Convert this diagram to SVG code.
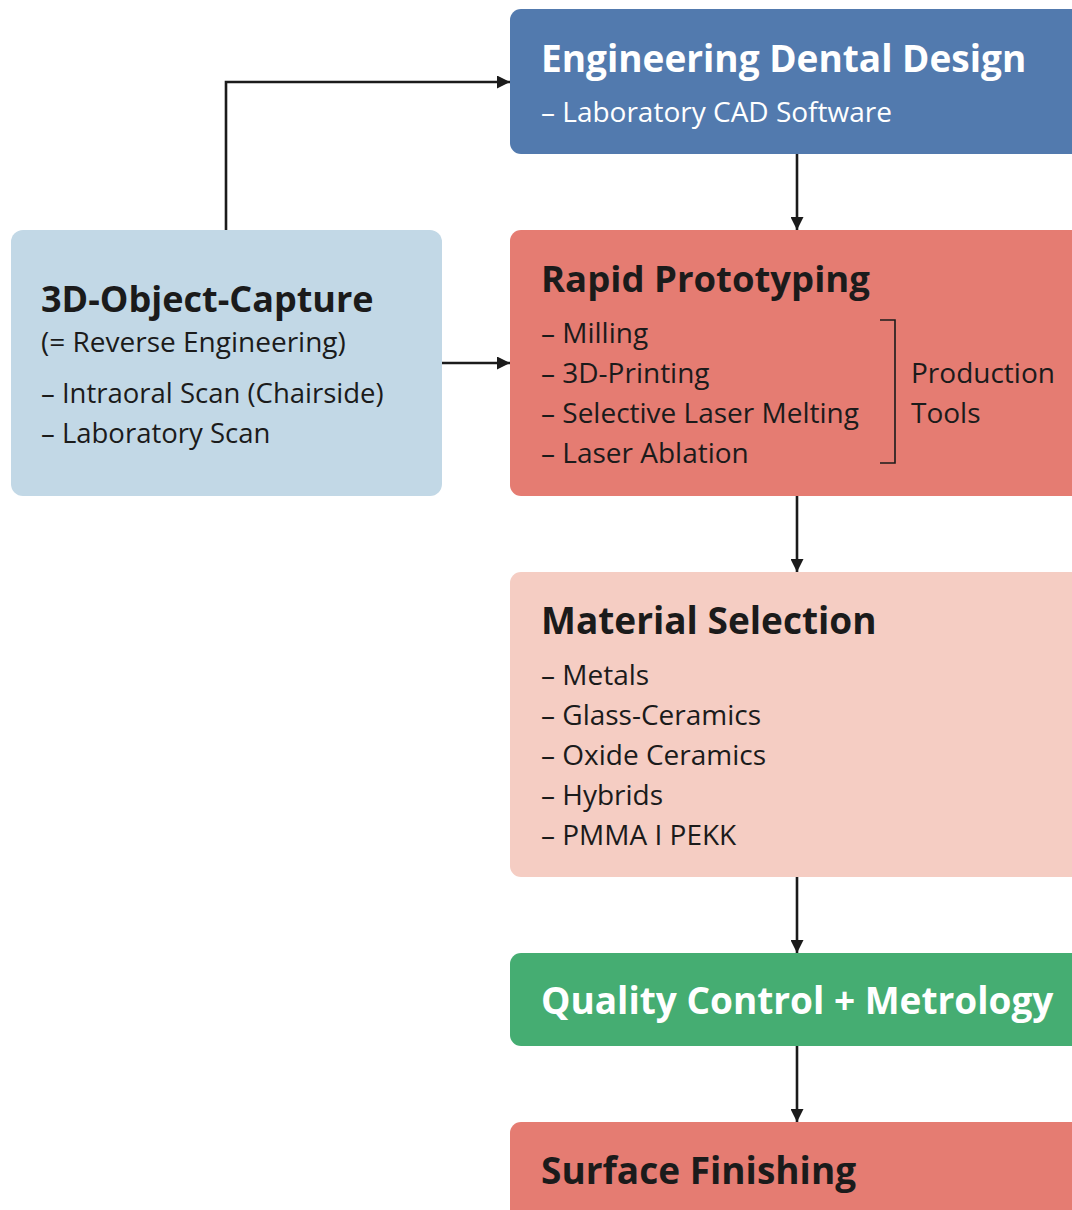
<svg xmlns="http://www.w3.org/2000/svg" width="1072" height="1210" viewBox="0 0 1072 1210">
  <style>
    .title { font-family: "Open Sans", "Noto Sans", "Liberation Sans", sans-serif; font-weight: 700; font-size: 37px; }
    .item { font-family: "Open Sans", "Noto Sans", "Liberation Sans", sans-serif; font-weight: 400; font-size: 28px; }
    .dark { fill: #1b1b1b; }
    .light { fill: #ffffff; }
    .conn { fill: none; stroke: #1b1b1b; stroke-width: 2.6; }
  </style>
  <defs>
    <marker id="arrow" viewBox="0 0 10 10" refX="10" refY="5" markerWidth="13" markerHeight="13" orient="auto" markerUnits="userSpaceOnUse">
      <path d="M0,0 L10,5 L0,10 Z" fill="#1b1b1b"/>
    </marker>
  </defs>

  <rect width="1072" height="1210" fill="#ffffff"/>

  <!-- Connectors -->
  <g id="connectors">
    <path class="conn" d="M226,230 V82 H510" marker-end="url(#arrow)"/>
    <path class="conn" d="M442,363 H510" marker-end="url(#arrow)"/>
    <path class="conn" d="M797,154 V230" marker-end="url(#arrow)"/>
    <path class="conn" d="M797,496 V572" marker-end="url(#arrow)"/>
    <path class="conn" d="M797,877 V953" marker-end="url(#arrow)"/>
    <path class="conn" d="M797,1046 V1122" marker-end="url(#arrow)"/>
  </g>

  <!-- Engineering Dental Design -->
  <g id="design">
    <rect x="510" y="9" width="580" height="145" rx="11" fill="#527aae"/>
    <text class="title light" x="541" y="72">Engineering Dental Design</text>
    <text class="item light" x="541" y="122">– Laboratory CAD Software</text>
  </g>

  <!-- 3D-Object-Capture -->
  <g id="capture">
    <rect x="11" y="230" width="431" height="266" rx="12" fill="#c2d8e6"/>
    <text class="title dark" x="41" y="312" style="font-size:36px">3D-Object-Capture</text>
    <text class="item dark" x="41" y="352">(= Reverse Engineering)</text>
    <text class="item dark" x="41" y="403" style="font-size:27.5px">– Intraoral Scan (Chairside)</text>
    <text class="item dark" x="41" y="443" style="font-size:27.5px">– Laboratory Scan</text>
  </g>

  <!-- Rapid Prototyping -->
  <g id="prototyping">
    <rect x="510" y="230" width="580" height="266" rx="11" fill="#e57c72"/>
    <text class="title dark" x="541" y="292" style="font-size:36.5px">Rapid Prototyping</text>
    <text class="item dark" x="541" y="343">– Milling</text>
    <text class="item dark" x="541" y="383">– 3D-Printing</text>
    <text class="item dark" x="541" y="423">– Selective Laser Melting</text>
    <text class="item dark" x="541" y="463">– Laser Ablation</text>
    <path d="M880,320 H895 V463 H880" fill="none" stroke="#1b1b1b" stroke-width="1.6"/>
    <text class="item dark" x="911" y="383">Production</text>
    <text class="item dark" x="911" y="423">Tools</text>
  </g>

  <!-- Material Selection -->
  <g id="material">
    <rect x="510" y="572" width="580" height="305" rx="11" fill="#f5cdc3"/>
    <text class="title dark" x="541" y="634">Material Selection</text>
    <text class="item dark" x="541" y="685">– Metals</text>
    <text class="item dark" x="541" y="725">– Glass-Ceramics</text>
    <text class="item dark" x="541" y="765">– Oxide Ceramics</text>
    <text class="item dark" x="541" y="805">– Hybrids</text>
    <text class="item dark" x="541" y="845">– PMMA I PEKK</text>
  </g>

  <!-- Quality Control + Metrology -->
  <g id="quality">
    <rect x="510" y="953" width="580" height="93" rx="11" fill="#45ad72"/>
    <text class="title light" x="541" y="1014">Quality Control + Metrology</text>
  </g>

  <!-- Surface Finishing -->
  <g id="finishing">
    <rect x="510" y="1122" width="580" height="120" rx="11" fill="#e57c72"/>
    <text class="title dark" x="541" y="1184">Surface Finishing</text>
  </g>
</svg>
